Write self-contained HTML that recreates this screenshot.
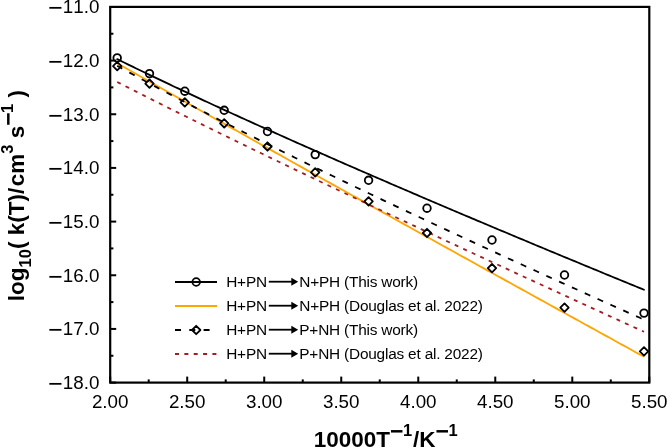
<!DOCTYPE html>
<html><head><meta charset="utf-8"><style>
html,body{margin:0;padding:0;background:#fff;}
svg{display:block;}
text{font-family:"Liberation Sans",Arial,Helvetica,sans-serif;fill:#000;font-kerning:none;}
.tl{font-size:18.8px;}
.ti{font-size:22.5px;font-weight:bold;}
.lg{font-size:15.4px;letter-spacing:-0.2px;}
</style></head><body>
<svg width="667" height="448" viewBox="0 0 667 448">
<rect width="667" height="448" fill="#fff"/>
<polyline points="117.20,59.13 119.85,60.43 122.49,61.73 125.14,63.03 127.79,64.32 130.44,65.61 133.08,66.90 135.73,68.19 138.38,69.47 141.03,70.75 143.67,72.03 146.32,73.31 148.97,74.58 151.61,75.85 154.26,77.12 156.91,78.39 159.56,79.65 162.20,80.91 164.85,82.17 167.50,83.43 170.14,84.68 172.79,85.94 175.44,87.19 178.09,88.43 180.73,89.68 183.38,90.92 186.03,92.17 188.68,93.41 191.32,94.65 193.97,95.88 196.62,97.12 199.26,98.35 201.91,99.58 204.56,100.81 207.21,102.03 209.85,103.26 212.50,104.48 215.15,105.70 217.79,106.92 220.44,108.14 223.09,109.36 225.74,110.57 228.38,111.79 231.03,113.00 233.68,114.21 236.33,115.42 238.97,116.62 241.62,117.83 244.27,119.03 246.91,120.24 249.56,121.44 252.21,122.64 254.86,123.83 257.50,125.03 260.15,126.23 262.80,127.42 265.45,128.61 268.09,129.80 270.74,130.99 273.39,132.18 276.03,133.37 278.68,134.55 281.33,135.74 283.98,136.92 286.62,138.10 289.27,139.28 291.92,140.46 294.56,141.64 297.21,142.82 299.86,143.99 302.51,145.17 305.15,146.34 307.80,147.51 310.45,148.68 313.10,149.85 315.74,151.02 318.39,152.19 321.04,153.35 323.68,154.52 326.33,155.68 328.98,156.85 331.63,158.01 334.27,159.17 336.92,160.33 339.57,161.49 342.22,162.65 344.86,163.80 347.51,164.96 350.16,166.11 352.80,167.27 355.45,168.42 358.10,169.57 360.75,170.72 363.39,171.87 366.04,173.02 368.69,174.17 371.33,175.32 373.98,176.47 376.63,177.61 379.28,178.76 381.92,179.90 384.57,181.04 387.22,182.18 389.87,183.33 392.51,184.47 395.16,185.61 397.81,186.74 400.45,187.88 403.10,189.02 405.75,190.16 408.40,191.29 411.04,192.43 413.69,193.56 416.34,194.69 418.98,195.82 421.63,196.96 424.28,198.09 426.93,199.22 429.57,200.35 432.22,201.47 434.87,202.60 437.52,203.73 440.16,204.85 442.81,205.98 445.46,207.10 448.10,208.23 450.75,209.35 453.40,210.47 456.05,211.60 458.69,212.72 461.34,213.84 463.99,214.96 466.64,216.08 469.28,217.20 471.93,218.31 474.58,219.43 477.22,220.55 479.87,221.66 482.52,222.78 485.17,223.89 487.81,225.01 490.46,226.12 493.11,227.23 495.75,228.35 498.40,229.46 501.05,230.57 503.70,231.68 506.34,232.79 508.99,233.90 511.64,235.01 514.29,236.11 516.93,237.22 519.58,238.33 522.23,239.44 524.87,240.54 527.52,241.65 530.17,242.75 532.82,243.85 535.46,244.96 538.11,246.06 540.76,247.16 543.41,248.27 546.05,249.37 548.70,250.47 551.35,251.57 553.99,252.67 556.64,253.77 559.29,254.87 561.94,255.96 564.58,257.06 567.23,258.16 569.88,259.26 572.52,260.35 575.17,261.45 577.82,262.54 580.47,263.64 583.11,264.73 585.76,265.82 588.41,266.92 591.06,268.01 593.70,269.10 596.35,270.19 599.00,271.29 601.64,272.38 604.29,273.47 606.94,274.56 609.59,275.65 612.23,276.74 614.88,277.82 617.53,278.91 620.17,280.00 622.82,281.09 625.47,282.17 628.12,283.26 630.76,284.35 633.41,285.43 636.06,286.52 638.71,287.60 641.35,288.69 644.00,289.77" fill="none" stroke="#000" stroke-width="1.8" stroke-linecap="round"/>
<polyline points="117.20,63.29 119.85,64.80 122.49,66.30 125.14,67.81 127.79,69.31 130.44,70.82 133.08,72.32 135.73,73.83 138.38,75.33 141.03,76.83 143.67,78.33 146.32,79.83 148.97,81.33 151.61,82.83 154.26,84.33 156.91,85.83 159.56,87.33 162.20,88.83 164.85,90.33 167.50,91.82 170.14,93.32 172.79,94.82 175.44,96.31 178.09,97.81 180.73,99.30 183.38,100.79 186.03,102.29 188.68,103.78 191.32,105.27 193.97,106.77 196.62,108.26 199.26,109.75 201.91,111.24 204.56,112.73 207.21,114.22 209.85,115.71 212.50,117.20 215.15,118.69 217.79,120.18 220.44,121.67 223.09,123.15 225.74,124.64 228.38,126.13 231.03,127.62 233.68,129.10 236.33,130.59 238.97,132.07 241.62,133.56 244.27,135.04 246.91,136.53 249.56,138.01 252.21,139.50 254.86,140.98 257.50,142.46 260.15,143.95 262.80,145.43 265.45,146.91 268.09,148.39 270.74,149.88 273.39,151.36 276.03,152.84 278.68,154.32 281.33,155.80 283.98,157.28 286.62,158.76 289.27,160.24 291.92,161.72 294.56,163.20 297.21,164.68 299.86,166.16 302.51,167.63 305.15,169.11 307.80,170.59 310.45,172.07 313.10,173.54 315.74,175.02 318.39,176.50 321.04,177.97 323.68,179.45 326.33,180.93 328.98,182.40 331.63,183.88 334.27,185.35 336.92,186.83 339.57,188.30 342.22,189.78 344.86,191.25 347.51,192.73 350.16,194.20 352.80,195.68 355.45,197.15 358.10,198.62 360.75,200.10 363.39,201.57 366.04,203.04 368.69,204.51 371.33,205.99 373.98,207.46 376.63,208.93 379.28,210.40 381.92,211.87 384.57,213.34 387.22,214.81 389.87,216.29 392.51,217.76 395.16,219.23 397.81,220.70 400.45,222.17 403.10,223.64 405.75,225.11 408.40,226.58 411.04,228.05 413.69,229.52 416.34,230.98 418.98,232.45 421.63,233.92 424.28,235.39 426.93,236.86 429.57,238.33 432.22,239.79 434.87,241.26 437.52,242.73 440.16,244.20 442.81,245.67 445.46,247.13 448.10,248.60 450.75,250.07 453.40,251.53 456.05,253.00 458.69,254.47 461.34,255.93 463.99,257.40 466.64,258.86 469.28,260.33 471.93,261.80 474.58,263.26 477.22,264.73 479.87,266.19 482.52,267.66 485.17,269.12 487.81,270.59 490.46,272.05 493.11,273.52 495.75,274.98 498.40,276.44 501.05,277.91 503.70,279.37 506.34,280.84 508.99,282.30 511.64,283.76 514.29,285.23 516.93,286.69 519.58,288.15 522.23,289.62 524.87,291.08 527.52,292.54 530.17,294.01 532.82,295.47 535.46,296.93 538.11,298.39 540.76,299.85 543.41,301.32 546.05,302.78 548.70,304.24 551.35,305.70 553.99,307.16 556.64,308.62 559.29,310.09 561.94,311.55 564.58,313.01 567.23,314.47 569.88,315.93 572.52,317.39 575.17,318.85 577.82,320.31 580.47,321.77 583.11,323.23 585.76,324.69 588.41,326.15 591.06,327.61 593.70,329.07 596.35,330.53 599.00,331.99 601.64,333.45 604.29,334.91 606.94,336.37 609.59,337.83 612.23,339.29 614.88,340.75 617.53,342.21 620.17,343.67 622.82,345.13 625.47,346.58 628.12,348.04 630.76,349.50 633.41,350.96 636.06,352.42 638.71,353.88 641.35,355.33 644.00,356.79" fill="none" stroke="#FFA500" stroke-width="1.8"/>
<polyline points="117.20,65.86 119.85,67.32 122.49,68.77 125.14,70.22 127.79,71.67 130.44,73.11 133.08,74.55 135.73,75.99 138.38,77.42 141.03,78.85 143.67,80.28 146.32,81.70 148.97,83.12 151.61,84.54 154.26,85.95 156.91,87.37 159.56,88.77 162.20,90.18 164.85,91.58 167.50,92.98 170.14,94.38 172.79,95.77 175.44,97.16 178.09,98.55 180.73,99.94 183.38,101.32 186.03,102.70 188.68,104.08 191.32,105.45 193.97,106.83 196.62,108.20 199.26,109.57 201.91,110.93 204.56,112.30 207.21,113.66 209.85,115.02 212.50,116.37 215.15,117.73 217.79,119.08 220.44,120.43 223.09,121.78 225.74,123.13 228.38,124.47 231.03,125.81 233.68,127.15 236.33,128.49 238.97,129.83 241.62,131.16 244.27,132.49 246.91,133.82 249.56,135.15 252.21,136.48 254.86,137.80 257.50,139.12 260.15,140.44 262.80,141.76 265.45,143.08 268.09,144.40 270.74,145.71 273.39,147.02 276.03,148.33 278.68,149.64 281.33,150.95 283.98,152.26 286.62,153.56 289.27,154.86 291.92,156.16 294.56,157.46 297.21,158.76 299.86,160.06 302.51,161.35 305.15,162.64 307.80,163.94 310.45,165.23 313.10,166.52 315.74,167.80 318.39,169.09 321.04,170.37 323.68,171.66 326.33,172.94 328.98,174.22 331.63,175.50 334.27,176.78 336.92,178.05 339.57,179.33 342.22,180.60 344.86,181.88 347.51,183.15 350.16,184.42 352.80,185.69 355.45,186.95 358.10,188.22 360.75,189.49 363.39,190.75 366.04,192.01 368.69,193.27 371.33,194.53 373.98,195.79 376.63,197.05 379.28,198.31 381.92,199.57 384.57,200.82 387.22,202.07 389.87,203.33 392.51,204.58 395.16,205.83 397.81,207.08 400.45,208.33 403.10,209.57 405.75,210.82 408.40,212.07 411.04,213.31 413.69,214.55 416.34,215.80 418.98,217.04 421.63,218.28 424.28,219.52 426.93,220.76 429.57,221.99 432.22,223.23 434.87,224.47 437.52,225.70 440.16,226.93 442.81,228.17 445.46,229.40 448.10,230.63 450.75,231.86 453.40,233.09 456.05,234.32 458.69,235.55 461.34,236.77 463.99,238.00 466.64,239.22 469.28,240.45 471.93,241.67 474.58,242.89 477.22,244.11 479.87,245.34 482.52,246.56 485.17,247.77 487.81,248.99 490.46,250.21 493.11,251.43 495.75,252.64 498.40,253.86 501.05,255.07 503.70,256.29 506.34,257.50 508.99,258.71 511.64,259.92 514.29,261.13 516.93,262.34 519.58,263.55 522.23,264.76 524.87,265.97 527.52,267.18 530.17,268.38 532.82,269.59 535.46,270.79 538.11,272.00 540.76,273.20 543.41,274.40 546.05,275.61 548.70,276.81 551.35,278.01 553.99,279.21 556.64,280.41 559.29,281.61 561.94,282.81 564.58,284.00 567.23,285.20 569.88,286.40 572.52,287.59 575.17,288.79 577.82,289.98 580.47,291.18 583.11,292.37 585.76,293.56 588.41,294.75 591.06,295.95 593.70,297.14 596.35,298.33 599.00,299.52 601.64,300.71 604.29,301.89 606.94,303.08 609.59,304.27 612.23,305.46 614.88,306.64 617.53,307.83 620.17,309.01 622.82,310.20 625.47,311.38 628.12,312.56 630.76,313.75 633.41,314.93 636.06,316.11 638.71,317.29 641.35,318.47 644.00,319.65" fill="none" stroke="#000" stroke-width="1.8" stroke-dasharray="6 8.06" stroke-dashoffset="0.22"/>
<polyline points="117.20,81.99 119.85,83.34 122.49,84.69 125.14,86.03 127.79,87.38 130.44,88.72 133.08,90.07 135.73,91.41 138.38,92.74 141.03,94.08 143.67,95.42 146.32,96.75 148.97,98.08 151.61,99.41 154.26,100.74 156.91,102.07 159.56,103.39 162.20,104.71 164.85,106.04 167.50,107.36 170.14,108.68 172.79,109.99 175.44,111.31 178.09,112.62 180.73,113.94 183.38,115.25 186.03,116.56 188.68,117.87 191.32,119.18 193.97,120.49 196.62,121.79 199.26,123.10 201.91,124.40 204.56,125.70 207.21,127.00 209.85,128.30 212.50,129.60 215.15,130.90 217.79,132.19 220.44,133.49 223.09,134.78 225.74,136.07 228.38,137.36 231.03,138.65 233.68,139.94 236.33,141.23 238.97,142.52 241.62,143.80 244.27,145.09 246.91,146.37 249.56,147.66 252.21,148.94 254.86,150.22 257.50,151.50 260.15,152.78 262.80,154.06 265.45,155.33 268.09,156.61 270.74,157.89 273.39,159.16 276.03,160.43 278.68,161.71 281.33,162.98 283.98,164.25 286.62,165.52 289.27,166.79 291.92,168.06 294.56,169.33 297.21,170.59 299.86,171.86 302.51,173.13 305.15,174.39 307.80,175.65 310.45,176.92 313.10,178.18 315.74,179.44 318.39,180.70 321.04,181.96 323.68,183.22 326.33,184.48 328.98,185.74 331.63,186.99 334.27,188.25 336.92,189.51 339.57,190.76 342.22,192.02 344.86,193.27 347.51,194.52 350.16,195.77 352.80,197.03 355.45,198.28 358.10,199.53 360.75,200.78 363.39,202.03 366.04,203.28 368.69,204.52 371.33,205.77 373.98,207.02 376.63,208.26 379.28,209.51 381.92,210.75 384.57,212.00 387.22,213.24 389.87,214.49 392.51,215.73 395.16,216.97 397.81,218.21 400.45,219.45 403.10,220.69 405.75,221.93 408.40,223.17 411.04,224.41 413.69,225.65 416.34,226.89 418.98,228.12 421.63,229.36 424.28,230.60 426.93,231.83 429.57,233.07 432.22,234.30 434.87,235.54 437.52,236.77 440.16,238.00 442.81,239.24 445.46,240.47 448.10,241.70 450.75,242.93 453.40,244.16 456.05,245.39 458.69,246.62 461.34,247.85 463.99,249.08 466.64,250.31 469.28,251.54 471.93,252.76 474.58,253.99 477.22,255.22 479.87,256.44 482.52,257.67 485.17,258.90 487.81,260.12 490.46,261.35 493.11,262.57 495.75,263.79 498.40,265.02 501.05,266.24 503.70,267.46 506.34,268.68 508.99,269.91 511.64,271.13 514.29,272.35 516.93,273.57 519.58,274.79 522.23,276.01 524.87,277.23 527.52,278.45 530.17,279.67 532.82,280.88 535.46,282.10 538.11,283.32 540.76,284.54 543.41,285.75 546.05,286.97 548.70,288.19 551.35,289.40 553.99,290.62 556.64,291.83 559.29,293.05 561.94,294.26 564.58,295.48 567.23,296.69 569.88,297.90 572.52,299.12 575.17,300.33 577.82,301.54 580.47,302.75 583.11,303.97 585.76,305.18 588.41,306.39 591.06,307.60 593.70,308.81 596.35,310.02 599.00,311.23 601.64,312.44 604.29,313.65 606.94,314.86 609.59,316.07 612.23,317.27 614.88,318.48 617.53,319.69 620.17,320.90 622.82,322.10 625.47,323.31 628.12,324.52 630.76,325.72 633.41,326.93 636.06,328.14 638.71,329.34 641.35,330.55 644.00,331.75" fill="none" stroke="#A41D22" stroke-width="1.8" stroke-dasharray="4 5.37" stroke-dashoffset="0.05"/>
<circle cx="117.2" cy="57.9" r="3.8" fill="none" stroke="#000" stroke-width="1.8"/>
<circle cx="149.5" cy="73.6" r="3.8" fill="none" stroke="#000" stroke-width="1.8"/>
<circle cx="184.8" cy="91.2" r="3.8" fill="none" stroke="#000" stroke-width="1.8"/>
<circle cx="224.2" cy="110.3" r="3.8" fill="none" stroke="#000" stroke-width="1.8"/>
<circle cx="267.5" cy="131.5" r="3.8" fill="none" stroke="#000" stroke-width="1.8"/>
<circle cx="315.2" cy="154.6" r="3.8" fill="none" stroke="#000" stroke-width="1.8"/>
<circle cx="368.6" cy="180.3" r="3.8" fill="none" stroke="#000" stroke-width="1.8"/>
<circle cx="427.0" cy="208.2" r="3.8" fill="none" stroke="#000" stroke-width="1.8"/>
<circle cx="492.0" cy="240.0" r="3.8" fill="none" stroke="#000" stroke-width="1.8"/>
<circle cx="564.5" cy="275.0" r="3.8" fill="none" stroke="#000" stroke-width="1.8"/>
<circle cx="644.0" cy="313.1" r="3.8" fill="none" stroke="#000" stroke-width="1.8"/>
<path d="M113.00,66.10L117.20,61.90L121.40,66.10L117.20,70.30Z" fill="none" stroke="#000" stroke-width="1.8" stroke-linejoin="round"/>
<path d="M145.30,83.70L149.50,79.50L153.70,83.70L149.50,87.90Z" fill="none" stroke="#000" stroke-width="1.8" stroke-linejoin="round"/>
<path d="M180.60,102.40L184.80,98.20L189.00,102.40L184.80,106.60Z" fill="none" stroke="#000" stroke-width="1.8" stroke-linejoin="round"/>
<path d="M220.00,123.30L224.20,119.10L228.40,123.30L224.20,127.50Z" fill="none" stroke="#000" stroke-width="1.8" stroke-linejoin="round"/>
<path d="M263.30,146.50L267.50,142.30L271.70,146.50L267.50,150.70Z" fill="none" stroke="#000" stroke-width="1.8" stroke-linejoin="round"/>
<path d="M311.00,172.40L315.20,168.20L319.40,172.40L315.20,176.60Z" fill="none" stroke="#000" stroke-width="1.8" stroke-linejoin="round"/>
<path d="M364.40,201.40L368.60,197.20L372.80,201.40L368.60,205.60Z" fill="none" stroke="#000" stroke-width="1.8" stroke-linejoin="round"/>
<path d="M422.80,233.00L427.00,228.80L431.20,233.00L427.00,237.20Z" fill="none" stroke="#000" stroke-width="1.8" stroke-linejoin="round"/>
<path d="M487.80,268.20L492.00,264.00L496.20,268.20L492.00,272.40Z" fill="none" stroke="#000" stroke-width="1.8" stroke-linejoin="round"/>
<path d="M560.30,307.60L564.50,303.40L568.70,307.60L564.50,311.80Z" fill="none" stroke="#000" stroke-width="1.8" stroke-linejoin="round"/>
<path d="M639.80,351.40L644.00,347.20L648.20,351.40L644.00,355.60Z" fill="none" stroke="#000" stroke-width="1.8" stroke-linejoin="round"/>
<rect x="110.2" y="6.9" width="539.10" height="375.70" fill="none" stroke="#000" stroke-width="2.2"/>
<line x1="110.20" y1="382.6" x2="110.20" y2="376.60" stroke="#000" stroke-width="2"/>
<line x1="148.71" y1="382.6" x2="148.71" y2="379.40" stroke="#000" stroke-width="2"/>
<line x1="187.21" y1="382.6" x2="187.21" y2="376.60" stroke="#000" stroke-width="2"/>
<line x1="225.72" y1="382.6" x2="225.72" y2="379.40" stroke="#000" stroke-width="2"/>
<line x1="264.23" y1="382.6" x2="264.23" y2="376.60" stroke="#000" stroke-width="2"/>
<line x1="302.74" y1="382.6" x2="302.74" y2="379.40" stroke="#000" stroke-width="2"/>
<line x1="341.24" y1="382.6" x2="341.24" y2="376.60" stroke="#000" stroke-width="2"/>
<line x1="379.75" y1="382.6" x2="379.75" y2="379.40" stroke="#000" stroke-width="2"/>
<line x1="418.26" y1="382.6" x2="418.26" y2="376.60" stroke="#000" stroke-width="2"/>
<line x1="456.76" y1="382.6" x2="456.76" y2="379.40" stroke="#000" stroke-width="2"/>
<line x1="495.27" y1="382.6" x2="495.27" y2="376.60" stroke="#000" stroke-width="2"/>
<line x1="533.78" y1="382.6" x2="533.78" y2="379.40" stroke="#000" stroke-width="2"/>
<line x1="572.29" y1="382.6" x2="572.29" y2="376.60" stroke="#000" stroke-width="2"/>
<line x1="610.79" y1="382.6" x2="610.79" y2="379.40" stroke="#000" stroke-width="2"/>
<line x1="649.30" y1="382.6" x2="649.30" y2="376.60" stroke="#000" stroke-width="2"/>
<line x1="110.2" y1="33.74" x2="113.40" y2="33.74" stroke="#000" stroke-width="2"/>
<line x1="110.2" y1="60.57" x2="116.20" y2="60.57" stroke="#000" stroke-width="2"/>
<line x1="110.2" y1="87.41" x2="113.40" y2="87.41" stroke="#000" stroke-width="2"/>
<line x1="110.2" y1="114.24" x2="116.20" y2="114.24" stroke="#000" stroke-width="2"/>
<line x1="110.2" y1="141.08" x2="113.40" y2="141.08" stroke="#000" stroke-width="2"/>
<line x1="110.2" y1="167.91" x2="116.20" y2="167.91" stroke="#000" stroke-width="2"/>
<line x1="110.2" y1="194.75" x2="113.40" y2="194.75" stroke="#000" stroke-width="2"/>
<line x1="110.2" y1="221.59" x2="116.20" y2="221.59" stroke="#000" stroke-width="2"/>
<line x1="110.2" y1="248.42" x2="113.40" y2="248.42" stroke="#000" stroke-width="2"/>
<line x1="110.2" y1="275.26" x2="116.20" y2="275.26" stroke="#000" stroke-width="2"/>
<line x1="110.2" y1="302.09" x2="113.40" y2="302.09" stroke="#000" stroke-width="2"/>
<line x1="110.2" y1="328.93" x2="116.20" y2="328.93" stroke="#000" stroke-width="2"/>
<line x1="110.2" y1="355.76" x2="113.40" y2="355.76" stroke="#000" stroke-width="2"/>
<line x1="110.2" y1="382.60" x2="116.20" y2="382.60" stroke="#000" stroke-width="2"/>
<line x1="175.0" y1="282.0" x2="217.0" y2="282.0" stroke="#000" stroke-width="1.8"/>
<circle cx="196.2" cy="282.0" r="3.8" fill="none" stroke="#000" stroke-width="1.8"/>
<line x1="175.0" y1="306.0" x2="217.0" y2="306.0" stroke="#FFA500" stroke-width="1.8"/>
<line x1="175.0" y1="330.0" x2="217.0" y2="330.0" stroke="#000" stroke-width="1.8" stroke-dasharray="6 8.3"/>
<path d="M192.00,330.00L196.20,325.80L200.40,330.00L196.20,334.20Z" fill="none" stroke="#000" stroke-width="1.8" stroke-linejoin="round"/>
<line x1="175.0" y1="354.0" x2="217.0" y2="354.0" stroke="#A41D22" stroke-width="1.8" stroke-dasharray="4 5.35"/>
<line x1="268.8" y1="281.70" x2="292" y2="281.70" stroke="#000" stroke-width="1.8"/>
<path d="M291.3,277.70L298.2,281.70L291.3,285.70Z" fill="#000"/>
<line x1="268.8" y1="305.70" x2="292" y2="305.70" stroke="#000" stroke-width="1.8"/>
<path d="M291.3,301.70L298.2,305.70L291.3,309.70Z" fill="#000"/>
<line x1="268.8" y1="329.70" x2="292" y2="329.70" stroke="#000" stroke-width="1.8"/>
<path d="M291.3,325.70L298.2,329.70L291.3,333.70Z" fill="#000"/>
<line x1="268.8" y1="353.70" x2="292" y2="353.70" stroke="#000" stroke-width="1.8"/>
<path d="M291.3,349.70L298.2,353.70L291.3,357.70Z" fill="#000"/>
<text x="110.20" y="407.8" text-anchor="middle" class="tl">2.00</text>
<text x="187.21" y="407.8" text-anchor="middle" class="tl">2.50</text>
<text x="264.23" y="407.8" text-anchor="middle" class="tl">3.00</text>
<text x="341.24" y="407.8" text-anchor="middle" class="tl">3.50</text>
<text x="418.26" y="407.8" text-anchor="middle" class="tl">4.00</text>
<text x="495.27" y="407.8" text-anchor="middle" class="tl">4.50</text>
<text x="572.29" y="407.8" text-anchor="middle" class="tl">5.00</text>
<text x="649.30" y="407.8" text-anchor="middle" class="tl">5.50</text>
<text x="99.4" y="13.30" text-anchor="end" class="tl"><tspan font-size="25" dy="3">−</tspan><tspan dy="-3">11.0</tspan></text>
<text x="99.4" y="66.97" text-anchor="end" class="tl"><tspan font-size="25" dy="3">−</tspan><tspan dy="-3">12.0</tspan></text>
<text x="99.4" y="120.64" text-anchor="end" class="tl"><tspan font-size="25" dy="3">−</tspan><tspan dy="-3">13.0</tspan></text>
<text x="99.4" y="174.31" text-anchor="end" class="tl"><tspan font-size="25" dy="3">−</tspan><tspan dy="-3">14.0</tspan></text>
<text x="99.4" y="227.99" text-anchor="end" class="tl"><tspan font-size="25" dy="3">−</tspan><tspan dy="-3">15.0</tspan></text>
<text x="99.4" y="281.66" text-anchor="end" class="tl"><tspan font-size="25" dy="3">−</tspan><tspan dy="-3">16.0</tspan></text>
<text x="99.4" y="335.33" text-anchor="end" class="tl"><tspan font-size="25" dy="3">−</tspan><tspan dy="-3">17.0</tspan></text>
<text x="99.4" y="389.00" text-anchor="end" class="tl"><tspan font-size="25" dy="3">−</tspan><tspan dy="-3">18.0</tspan></text>
<text x="226.2" y="286.60" class="lg">H+PN</text>
<text x="299.3" y="286.60" class="lg">N+PH (This work)</text>
<text x="226.2" y="310.60" class="lg">H+PN</text>
<text x="299.3" y="310.60" class="lg">N+PH (Douglas et al. 2022)</text>
<text x="226.2" y="334.60" class="lg">H+PN</text>
<text x="299.3" y="334.60" class="lg">P+NH (This work)</text>
<text x="226.2" y="358.60" class="lg">H+PN</text>
<text x="299.3" y="358.60" class="lg">P+NH (Douglas et al. 2022)</text>
<text x="313.8" y="446.8" class="ti">10000T<tspan font-size="23" dy="-7.9">−</tspan><tspan font-size="16.5" dx="-0.5" dy="-3">1</tspan><tspan dx="0.8" dy="10.9">/K</tspan><tspan font-size="23" dy="-7.9">−</tspan><tspan font-size="16.5" dx="-0.5" dy="-3">1</tspan></text>
<text transform="translate(24.4,301.2) rotate(-90)" class="ti">log<tspan font-size="16.5" dy="6.5">10</tspan><tspan dy="-6.5">( k(T)/</tspan><tspan dx="1.5">cm</tspan><tspan font-size="16.5" dy="-11.5">3</tspan><tspan dy="11.5"> s</tspan><tspan font-size="23" dy="-8.2">−</tspan><tspan font-size="16.5" dx="-0.5" dy="-3.4">1</tspan><tspan dy="11.6"> )</tspan></text>
</svg>
</body></html>
